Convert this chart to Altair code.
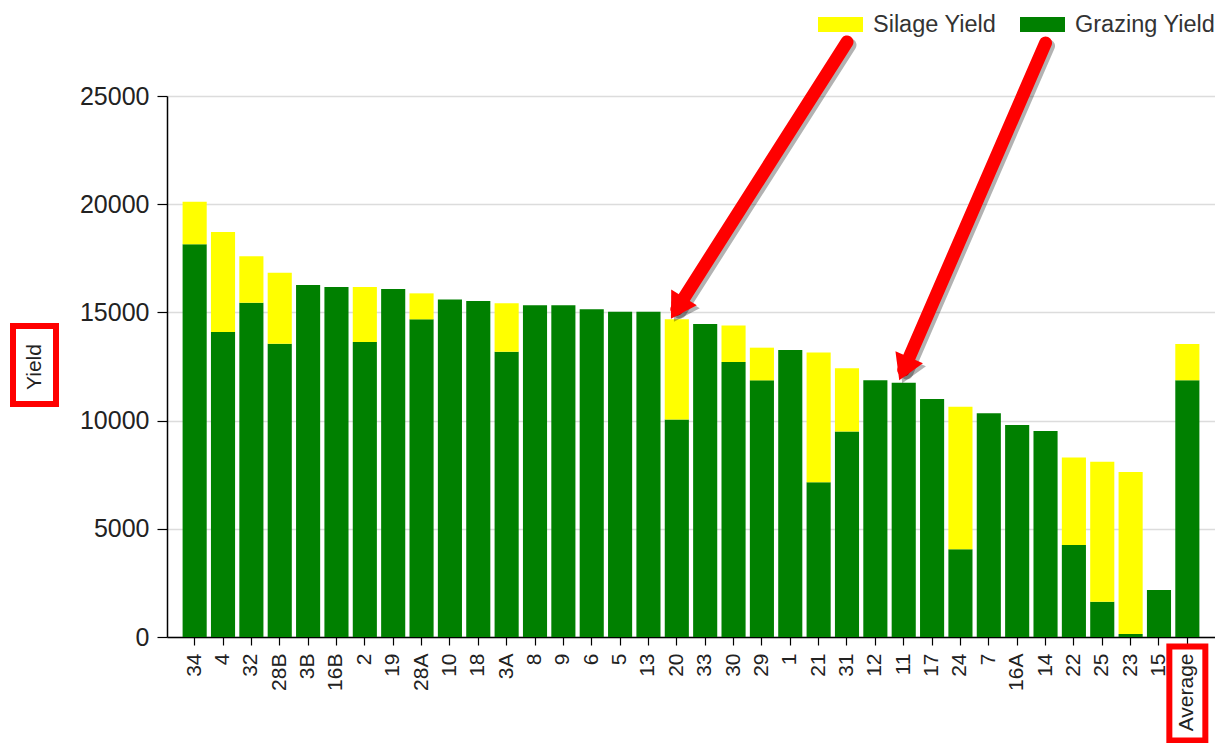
import altair as alt
import pandas as pd

categories = ["34", "4", "32", "28B", "3B", "16B", "2", "19", "28A", "10", "18", "3A",
              "8", "9", "6", "5", "13", "20", "33", "30", "29", "1", "21", "31", "12",
              "11", "17", "24", "7", "16A", "14", "22", "25", "23", "15", "Average"]
grazing = [18150, 14100, 15450, 13550, 16270, 16170, 13630, 16080, 14680, 15600, 15530, 13180,
           15330, 15330, 15140, 15030, 15030, 10050, 14460, 12710, 11860, 13260, 7150, 9500, 11860,
           11750, 11000, 4050, 10340, 9800, 9520, 4250, 1630, 140, 2170, 11860]
silage = [1960, 4610, 2140, 3280, 0, 0, 2540, 0, 1200, 0, 0, 2240,
          0, 0, 0, 0, 0, 4630, 0, 1680, 1510, 0, 6000, 2920, 0,
          0, 0, 6590, 0, 0, 0, 4040, 6470, 7490, 0, 1680]
series = ["Silage Yield", "Grazing Yield"]
colors = ["#ffff00", "#008000"]
y_ticks = [0, 5000, 10000, 15000, 20000, 25000]

# annotation arrows (category + value anchors)
arrow_from_cat = ["31", "14"]
arrow_to_cat = ["20", "11"]
arrow_from_val = [27500, 27450]
arrow_to_val = [15150, 12340]
arrow_angles = [211.5, 203.5]

# highlight boxes
yield_box_vals = [14370, 10770]
avg_box_cat = ["Average"]
avg_box_vals = [-440, -4780]

rows = []
for c, g, s in zip(categories, grazing, silage):
    rows.append({"cat": c, "series": "Grazing Yield", "value": g, "ord": 0})
    rows.append({"cat": c, "series": "Silage Yield", "value": s, "ord": 1})
df = pd.DataFrame(rows)

arrows = pd.DataFrame({"c1": arrow_from_cat, "c2": arrow_to_cat,
                       "v1": arrow_from_val, "v2": arrow_to_val})
ybox = pd.DataFrame({"v1": [yield_box_vals[0]], "v2": [yield_box_vals[1]]})
abox = pd.DataFrame({"cat": avg_box_cat, "v1": [avg_box_vals[0]], "v2": [avg_box_vals[1]]})

FONT = "Liberation Sans"
xscale = alt.Scale(domain=categories, paddingInner=0.15, paddingOuter=0.55)
yscale = alt.Scale(domain=[0, 25000], nice=False)

head_path = "M0,-0.45 L0.6,0.55 L-0.6,0.55 Z"
legend_path = "M-1,-0.333 L1,-0.333 L1,0.333 L-1,0.333 Z"

bars = alt.Chart(df).mark_bar().encode(
    x=alt.X("cat:N", scale=xscale, sort=categories,
            axis=alt.Axis(title=None, labelAngle=-90, labelFontSize=21, labelColor="#222",
                          labelPadding=8, tickSize=8, tickColor="#000", tickWidth=1.2,
                          domainColor="#000", domainWidth=1.5, grid=False)),
    y=alt.Y("value:Q", stack="zero", scale=yscale,
            axis=alt.Axis(values=y_ticks, format="d", title="Yield", titleFontSize=21,
                          titleFontWeight="normal", titleColor="#222",
                          titleX=-127, titleY=270.5, titleAlign="center",
                          titleBaseline="alphabetic", titleAngle=-90,
                          labelFontSize=25, labelColor="#222", labelPadding=8,
                          tickSize=10, tickColor="#000", tickWidth=1.2,
                          domainColor="#000", domainWidth=1.5,
                          grid=True, gridColor="#dcdcdc", gridWidth=1.5)),
    color=alt.Color("series:N", scale=alt.Scale(domain=series, range=colors),
                    legend=alt.Legend(orient="none", legendX=651, legendY=-94,
                                      direction="horizontal", title=None,
                                      symbolType=legend_path, symbolSize=2025,
                                      symbolStrokeWidth=0, symbolOpacity=1,
                                      labelFontSize=23.5, labelColor="#333",
                                      labelOffset=10, columnPadding=23, padding=0)),
    order=alt.Order("ord:Q", sort="ascending"),
)

ax = alt.X("c1:N", scale=xscale, sort=categories)
ay = alt.Y("v1:Q", scale=yscale)

shaft_shadow = alt.Chart(arrows).mark_rule(
    color="#000", opacity=0.3, strokeWidth=13, strokeCap="round",
    xOffset=3, x2Offset=3, yOffset=3, y2Offset=3
).encode(x=ax, x2="c2:N", y=ay, y2="v2:Q")

shaft = alt.Chart(arrows).mark_rule(
    color="#ff0000", strokeWidth=13, strokeCap="round"
).encode(x=ax, x2="c2:N", y=ay, y2="v2:Q")

heads = []
for i in range(len(arrow_to_cat)):
    one = arrows.iloc[[i]]
    hx = alt.X("c2:N", scale=xscale, sort=categories)
    hy = alt.Y("v2:Q", scale=yscale)
    heads.append(alt.Chart(one).mark_point(
        shape=head_path, size=2500, filled=True, color="#000", opacity=0.3,
        angle=arrow_angles[i], xOffset=3, yOffset=3, strokeWidth=0
    ).encode(x=hx, y=hy))
    heads.append(alt.Chart(one).mark_point(
        shape=head_path, size=2500, filled=True, color="#ff0000", opacity=1,
        angle=arrow_angles[i], strokeWidth=0
    ).encode(x=hx, y=hy))

ybox_mark = alt.Chart(ybox).mark_rect(
    fillOpacity=0, stroke="#ff0000", strokeWidth=6
).encode(x=alt.value(-154), x2=alt.value(-111),
         y=alt.Y("v1:Q", scale=yscale), y2="v2:Q")

abox_mark = alt.Chart(abox).mark_bar(
    width=36, fillOpacity=0, stroke="#ff0000", strokeWidth=6
).encode(x=alt.X("cat:N", scale=xscale, sort=categories),
         y=alt.Y("v1:Q", scale=yscale), y2="v2:Q")

chart = alt.layer(bars, shaft_shadow, shaft, *heads, ybox_mark, abox_mark).properties(
    width=1048, height=541,
    autosize=alt.AutoSizeParams(type="none"),
    padding={"left": 159, "top": 88, "right": 0, "bottom": 106},
).configure(font=FONT).configure_view(strokeWidth=0)

chart.save("out.html", embed_options={"renderer": "svg", "actions": False})
